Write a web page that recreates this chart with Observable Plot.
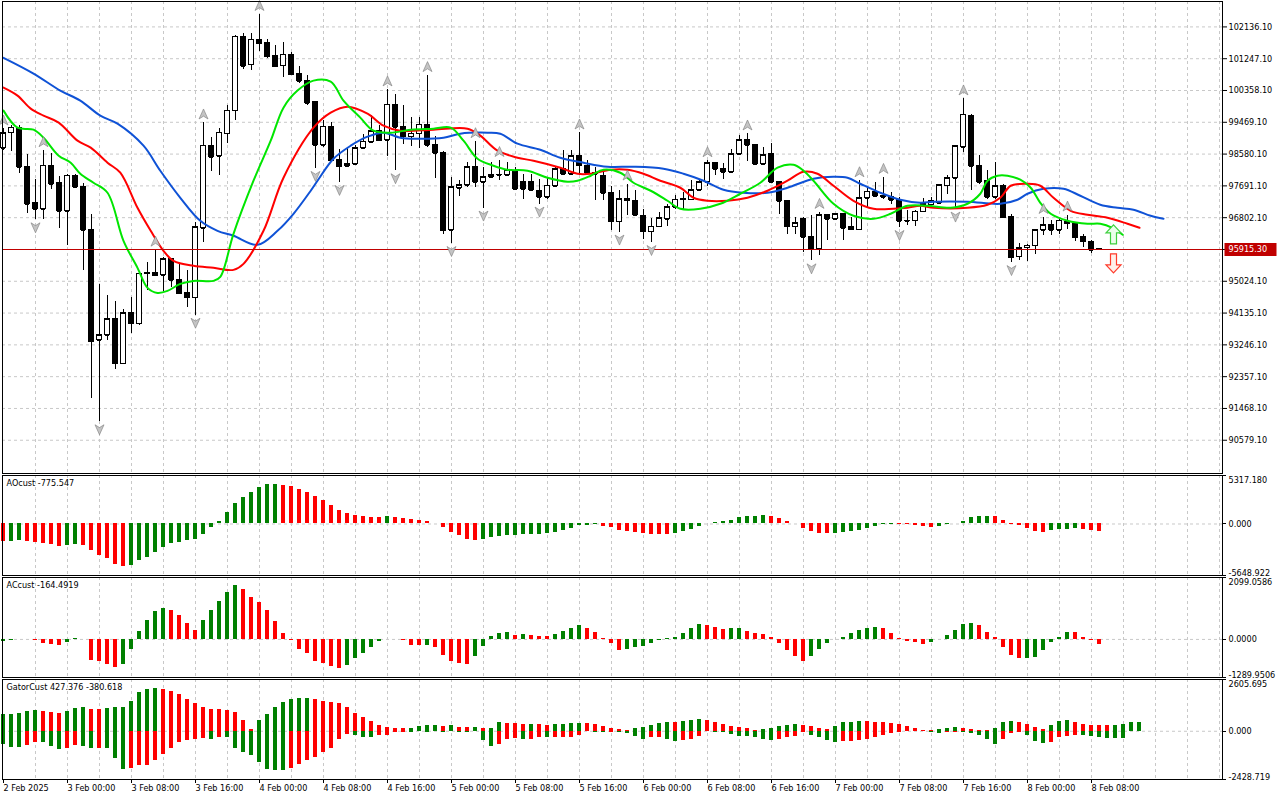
<!DOCTYPE html>
<html><head><meta charset="utf-8">
<script src="https://cdn.jsdelivr.net/npm/d3@7"></script>
<script src="https://cdn.jsdelivr.net/npm/@observablehq/plot@0.6"></script>
<style>
html,body{margin:0;padding:0;background:#fff;}
#chart{position:relative;width:1280px;height:800px;overflow:hidden;background:#fff;}
#chart svg{position:absolute;left:0;display:block;}
</style></head><body><div id="chart"></div>
<script>
// ---------------- DATA ----------------
const xLabels = ["2 Feb 2025","3 Feb 00:00","3 Feb 08:00","3 Feb 16:00","4 Feb 00:00","4 Feb 08:00","4 Feb 16:00","5 Feb 00:00","5 Feb 08:00","5 Feb 16:00","6 Feb 00:00","6 Feb 08:00","6 Feb 16:00","7 Feb 00:00","7 Feb 08:00","7 Feb 16:00","8 Feb 00:00","8 Feb 08:00"];
const priceTicks = [102136.10,101247.10,100358.10,99469.10,98580.10,97691.10,96802.10,95913.10,95024.10,94135.10,93246.10,92357.10,91468.10,90579.10];
const lastPrice = 95915.30;

const openP = [98750,99170,99300,98227,97200,97042,98255,97760,96986,97975,
97667,96454,93374,93514,93962,92720,94130,93840,95240,95250,
95194,95642,95054,94690,94568,96510,98815,98516,99142,99795,
101867,101074,101774,101680,101335,101055,101363,100822,100635,100028,
98834,99347,98423,98236,98302,98750,98908,99230,98974,99954,
99328,99067,99142,99394,98834,98610,96454,97630,97714,98208,
97788,97928,97994,97994,98087,97790,97807,97555,97368,97676,
98162,98022,98535,98255,98050,97956,97490,96687,97322,97275,
96855,96407,96547,96762,97088,97303,97303,97574,97788,98330,
98162,98068,98582,98974,98834,98302,98582,97788,97256,96547,
96762,96267,95922,96874,96762,96902,96528,96463,97350,97527,
97415,97368,97303,96715,96715,96967,97163,97199,97695,97911,
98767,99655,98255,97835,97367,97675,96827,95707,95967,96015,
96455,96595,96455,96695,96639,96267,96135,95930];
const highP = [99282,99375,99375,98563,97882,98675,98610,97956,98022,98022,
97760,96883,94942,94615,94447,94223,94568,95268,95548,95894,
95688,95670,95502,95334,96668,99450,99030,99282,99935,101886,
101942,101942,102483,101774,101615,101690,101428,101027,100775,100056,
99515,99468,98703,98750,98815,99123,99655,99375,100374,100234,
99935,99590,99608,100775,99067,98650,97928,97854,98348,98927,
98208,98348,98400,98348,98208,98022,98022,97882,97910,98208,
98675,98675,99170,98395,98208,98096,97667,97574,97742,97555,
97042,96790,96948,97182,97415,97508,97835,97835,98395,98348,
98330,98722,99095,99142,98862,98768,98880,97807,97270,96808,
96808,96855,96950,96880,96920,96920,96808,97835,97648,97788,
97928,97508,97368,96995,96995,97351,97367,97743,97995,98815,
100123,99683,98535,98135,98347,97743,96883,96079,96043,96470,
96807,96715,96790,96875,96667,96323,96155,95935];
const lowP = [98675,98656,98040,96920,96743,96762,97583,96500,96034,97630,
95334,91740,91096,93374,92562,92702,93560,93775,94774,95156,
94727,94848,94662,94288,94074,96108,98096,97975,98880,99515,
100943,100915,101447,101242,101008,100710,100775,100560,99935,98180,
98768,98376,97788,98227,98283,98722,98908,98927,98507,98115,
98862,98787,98750,98768,97910,96342,96080,97387,97648,97648,
97070,97910,97835,97975,97574,97322,97555,97182,97322,97648,
97975,98003,97994,98022,97275,97275,96435,96400,96855,96855,
96202,96108,96528,96547,97042,97042,97275,97555,97667,97975,
97882,98050,98570,98367,98274,98283,97760,96902,96342,96342,
95828,95595,95735,96155,96745,96155,96435,96435,97088,97368,
97322,97182,96528,96575,96547,96939,97135,97183,97443,97043,
98627,97555,97743,97323,97323,96790,95547,95595,95580,95783,
96295,96295,96343,96483,96135,95967,95799,95910];
const closeP = [99160,99310,98208,97182,97032,98255,97742,96986,97975,97648,
96454,93336,93514,93962,92720,94130,93840,95240,95259,95175,
95642,95054,94680,94568,96528,98815,98488,99170,99795,101867,
101036,101774,101662,101307,101027,101363,100803,100616,100000,98834,
99347,98395,98227,98302,98750,98927,99216,98955,99954,99328,
99067,99142,99394,98834,98600,96435,97648,97714,98208,97788,
97928,97994,98003,98115,97602,97602,97574,97368,97695,98162,
98022,98516,98255,98040,98012,97480,96687,97322,97275,96874,
96407,96547,96780,97088,97303,97312,97574,97788,98330,98162,
98068,98582,98974,98834,98302,98554,97788,97256,96547,96650,
96248,95903,96874,96762,96902,96500,96463,97350,97527,97396,
97368,97294,96696,96706,96967,97183,97255,97715,97911,98795,
99683,98235,97787,97367,97675,96807,95687,95951,96015,96455,
96595,96455,96715,96639,96247,96127,95895,95915.3];

const fractalUpBars = [0,5,19,25,32,48,53,59,62,72,78,88,93,102,107,110,120,130,133];
const fractalDownBars = [4,12,24,39,42,49,56,60,67,77,81,101,112,119,126];

// Alligator lines: [bar, price]
const jaw = [[0,101271],[3.75,100831],[7.1,100355],[9.6,100075],[12.1,99655],[14.25,99431],[17.5,98815],[19.6,98115],[22.1,97359],[24.6,96715],[26.75,96435],[28.75,96295],[31.75,96043],[34.25,96435],[36.25,96911],[38.4,97555],[39.25,97835],[41.25,98451],[43.4,98815],[45.5,99067],[47.5,99179],[49.6,99039],[51.75,99011],[55,99039],[57.1,99151],[60.5,99179],[62.1,99151],[64.25,98871],[67.1,98703],[69.6,98479],[72.5,98339],[75.5,98227],[78.75,98227],[82.5,98171],[85,98031],[87.5,97835],[90,97583],[92.5,97499],[95.5,97499],[98,97639],[101.25,97891],[103.75,97947],[105.5,97919],[107.1,97751],[109.6,97499],[112.1,97303],[114.6,97219],[116.25,97247],[120.5,97247],[124.6,97191],[126.75,97303],[128,97471],[130,97611],[132.5,97611],[134.6,97415],[137.1,97163],[139.25,97079],[141.25,97023],[143.4,96855],[145,96771]];
const teeth = [[0,100439],[1.75,100215],[3.4,99851],[5,99655],[6.9,99459],[9.25,98955],[10.9,98759],[13,98339],[14.6,98059],[16.75,97079],[18.4,96435],[20,95875],[21.25,95595],[23.75,95455],[26.25,95399],[28.75,95343],[30,95511],[32.5,96435],[35,97919],[38.75,99319],[40.9,99739],[43,99907],[45.5,99711],[47.5,99375],[49.6,99235],[53.75,99263],[58,99291],[59.6,99095],[61.75,98675],[64.25,98479],[66.25,98395],[69.6,98199],[71.75,98031],[73.4,98031],[75.9,98143],[78,98143],[80,98031],[82.1,97835],[84.6,97639],[86.25,97359],[88,97275],[90.5,97275],[93,97359],[95.5,97555],[98,97835],[100,98087],[101.75,98031],[103.75,97695],[106.25,97275],[108.75,97051],[111.25,97051],[113,97079],[114.6,97135],[116.25,97079],[120.5,97079],[123,97163],[124.6,97359],[125.9,97695],[128,97751],[129.6,97695],[131.25,97359],[133.4,96995],[135.5,96883],[138,96799],[140.5,96631],[142,96519]];
const lips = [[0,99795],[1.75,99319],[3.75,99263],[5,99039],[6.9,98535],[8.4,98339],[9.6,98031],[11.25,97779],[13,97499],[15,96155],[16.75,95399],[18,94839],[19.25,94699],[20.5,94755],[22.1,94951],[23.75,95035],[26.25,95035],[27.1,95147],[28.75,96351],[31.25,97835],[33.4,98955],[35,99879],[36.75,100355],[38.75,100635],[40.9,100607],[42.5,100075],[44.6,99599],[46.25,99235],[48.4,99179],[50.9,99263],[53.75,99291],[55.9,99319],[57.5,98955],[59.25,98451],[61.25,98255],[63,98143],[65.5,98115],[68,97919],[70.5,97807],[71.75,97835],[73.4,97975],[75,98143],[77.1,98059],[78.75,97779],[80.9,97555],[83,97275],[84.6,97051],[87.1,97051],[89.6,97191],[92.1,97471],[94.6,97779],[96.75,98199],[98.75,98283],[100,98115],[101.25,97835],[103.75,97191],[106.25,96855],[108.75,96771],[110.9,96911],[113,97135],[115.5,97135],[118.4,97079],[120.5,97191],[122.1,97471],[123,97835],[124.25,97975],[125.5,97975],[127.1,97863],[128.4,97639],[129.6,97219],[130.9,96911],[133,96715],[135.5,96631],[137.1,96631],[138.6,96519],[139.9,96323]];

const signalUp = [[138.75, 96337]];
const signalDown = [[138.75, 95525]];

const aoValues = [-1920,-1883,-1846,-1920,-2031,-2178,-2289,-2474,-2363,-2289,
-2400,-2954,-3470,-3766,-4393,-4689,-4578,-4024,-3692,-3138,
-2584,-2178,-2031,-1809,-1698,-1181,-369,258,1255,2252,
2917,3507,4024,4320,4357,4246,4098,3803,3507,3027,
2621,2031,1477,1145,960,812,701,665,849,701,
628,480,369,258,37,-369,-923,-1255,-1698,-1772,
-1661,-1477,-1366,-1292,-1255,-1181,-1145,-1108,-1034,-923,
-665,-443,-185,-148,-111,-258,-369,-701,-849,-923,
-997,-1108,-1145,-1181,-997,-849,-554,-258,74,148,
258,406,665,775,849,886,812,628,295,37,
-443,-812,-1034,-1071,-1034,-886,-812,-701,-480,-258,
-74,-37,-74,-111,-148,-258,-332,-258,-74,74,
258,665,775,849,812,369,-5,-185,-517,-812,
-886,-701,-628,-554,-517,-628,-740,-775.547];
const acValues = [-80,-34,6,11,-34,-148,-160,-205,-114,34,
-6,-707,-764,-833,-936,-833,-354,262,639,936,
1038,970,799,525,319,639,981,1289,1597,1826,
1689,1415,1255,993,605,217,-46,-342,-491,-742,
-799,-913,-970,-890,-662,-491,-285,-80,11,-6,
-46,-194,-217,-194,-285,-536,-764,-799,-833,-571,
-228,114,217,222,148,183,137,114,108,160,
285,365,456,377,251,46,-148,-377,-342,-285,
-251,-148,-34,23,80,217,354,502,456,388,
342,354,365,262,205,171,80,-148,-365,-571,
-742,-571,-342,-148,11,57,194,297,365,388,
371,194,23,-57,-114,-171,-114,2,148,297,
502,525,456,251,80,-285,-536,-662,-639,-605,
-377,-114,68,251,240,80,-34,-164.4919];
const gatorUpper = [848,864,881,1000,1051,1000,949,915,1000,1153,
1203,1102,1085,1153,1203,1220,1509,1966,2119,2170,
2119,2000,1831,1610,1373,1203,1102,1085,1051,966,
542,85,525,864,1203,1441,1610,1627,1644,1610,
1509,1441,1373,1203,915,695,508,305,186,136,
119,136,254,271,288,254,271,186,170,186,
136,153,424,407,390,339,356,339,305,339,
356,373,390,373,339,220,136,85,51,136,
170,305,390,441,424,508,542,593,542,458,
339,254,186,119,51,68,136,254,305,339,
288,220,136,85,220,424,458,508,492,458,
424,407,339,220,136,51,34,85,136,186,
153,102,51,17,136,424,475,458,339,186,
85,305,508,525,458,339,305,288,271,305,
356,424,427.376];
const gatorLower = [-661,-797,-831,-712,-559,-576,-763,-915,-881,-712,
-763,-881,-864,-881,-1390,-1932,-1898,-1729,-1712,-1475,
-1187,-881,-542,-458,-424,-373,-407,-322,-339,-881,
-1051,-1220,-1559,-1932,-1983,-2000,-1898,-1695,-1475,-1339,
-1085,-848,-407,-153,-203,-305,-322,-237,-203,-68,
-51,-68,-34,-51,-34,-68,-34,-51,-68,-34,
-458,-763,-661,-407,-373,-407,-390,-322,-331,-322,
-314,-305,-203,-34,-51,-68,-51,-68,-119,-254,
-407,-339,-322,-424,-492,-475,-407,-254,-34,-51,
-68,-153,-254,-271,-339,-424,-475,-407,-339,-254,
-68,-203,-339,-475,-542,-508,-492,-475,-407,-305,
-203,-119,-68,-34,-17,-34,-85,-119,-85,-51,
-85,-119,-237,-424,-661,-407,-119,-68,-237,-492,
-593,-542,-339,-288,-203,-237,-288,-339,-356,-373,
-380.618];

const aoAxis = [5317.180, 0, -5648.922];
const acAxis = [2099.0586, 0, -1289.9506];
const gatorAxis = [2605.695, 0, -2428.719];

// ---------------- STYLE / LAYOUT ----------------
const FONT = '"DejaVu Sans Condensed","Liberation Sans",sans-serif';
const GRID = "#c8c8c8", UP = "#008000", DN = "#ff0000";
const X0 = -0.125, X1 = 152.375;
const gridBars = d3.range(4, 153, 4);
const labelBars = xLabels.map((_, k) => 8 * k);
const chart = document.getElementById("chart");
const style = {background: "transparent", fontFamily: FONT, fontSize: "9px", color: "black", overflow: "visible"};

function place(svg, top) { svg.style.top = top + "px"; chart.appendChild(svg); }

const sym = (pts) => ({draw(ctx) { ctx.moveTo(pts[0][0], pts[0][1]); for (const p of pts.slice(1)) ctx.lineTo(p[0], p[1]); ctx.closePath(); }});
const fracUpSym = sym([[0,-5],[4.5,5],[0,2.2],[-4.5,5]]);
const fracDnSym = sym([[0,5],[4.5,-5],[0,-2.2],[-4.5,-5]]);
const sigUpSym = sym([[0,-9.5],[7.5,-1.5],[3,-1.5],[3,9.5],[-3,9.5],[-3,-1.5],[-7.5,-1.5]]);
const sigDnSym = sym([[0,9.5],[7.5,1.5],[3,1.5],[3,-9.5],[-3,-9.5],[-3,1.5],[-7.5,1.5]]);
const boxSym = {draw(ctx) { ctx.rect(-26, -6.5, 52, 13); }};

const candles = openP.map((o, i) => ({i, o, h: highP[i], l: lowP[i], c: closeP[i]}));
const lineOpts = (color) => ({x: d => d[0], y: d => d[1], stroke: color, strokeWidth: 2, curve: "catmull-rom"});

// ---------------- MAIN PANE ----------------
place(Plot.plot({
  width: 1280, height: 474, marginLeft: 2, marginRight: 58, marginTop: 1, marginBottom: 1,
  style,
  x: {domain: [X0, X1], axis: null},
  y: {domain: [89649.4, 102846.5]},
  marks: [
    Plot.ruleX(gridBars, {stroke: GRID, strokeDasharray: "3,3"}),
    Plot.ruleY(priceTicks, {stroke: GRID, strokeDasharray: "3,3"}),
    Plot.ruleX(candles, {x: "i", y1: "l", y2: "h", stroke: "black", shapeRendering: "crispEdges"}),
    Plot.rect(candles, {x1: d => d.i - 0.26, x2: d => d.i + 0.26, y1: "o", y2: "c",
      fill: d => d.c >= d.o ? "white" : "black", stroke: "black", shapeRendering: "crispEdges"}),
    Plot.ruleY(candles, {y: "o", x1: d => d.i - 0.26, x2: d => d.i + 0.26, stroke: "black", shapeRendering: "crispEdges"}),
    Plot.ruleY(candles, {y: "c", x1: d => d.i - 0.26, x2: d => d.i + 0.26, stroke: "black", shapeRendering: "crispEdges"}),
    Plot.line(jaw, lineOpts("#0f52d6")),
    Plot.line(teeth, lineOpts("#ff0000")),
    Plot.line(lips, lineOpts("#00e600")),
    Plot.ruleY([lastPrice], {stroke: "#c00000", shapeRendering: "crispEdges"}),
    Plot.dot(fractalUpBars, {x: d => d, y: d => highP[d], symbol: fracUpSym, r: 5, fill: "#c4c4c4", stroke: "#7a7a7a", strokeWidth: 0.6, dy: -9}),
    Plot.dot(fractalDownBars, {x: d => d, y: d => lowP[d], symbol: fracDnSym, r: 5, fill: "#c4c4c4", stroke: "#7a7a7a", strokeWidth: 0.6, dy: 8}),
    Plot.dot(signalUp, {x: d => d[0], y: d => d[1], symbol: sigUpSym, r: 5, fill: "#eaffea", stroke: "#3ccf3c", strokeWidth: 1.2}),
    Plot.dot(signalDown, {x: d => d[0], y: d => d[1], symbol: sigDnSym, r: 5, fill: "#fff0ea", stroke: "#ff3a2a", strokeWidth: 1.2}),
    Plot.frame({stroke: "black", shapeRendering: "crispEdges"}),
    Plot.axisY(priceTicks, {anchor: "right", tickSize: 4, tickPadding: 2, tickFormat: d => d.toFixed(2), fontSize: 9}),
    Plot.dot([lastPrice], {x: () => X1, y: d => d, symbol: boxSym, r: 5, fill: "#c00000", dx: 28}),
    Plot.text([lastPrice], {x: () => X1, y: d => d, text: d => d.toFixed(2), dx: 6, textAnchor: "start", fill: "white", fontSize: 9})
  ]
}), 0);

// ---------------- INDICATOR PANES ----------------
function series(values, firstUp, useAbs) {
  return values.map((v, i) => {
    const a = useAbs ? Math.abs(v) : v;
    const p = i === 0 ? null : (useAbs ? Math.abs(values[i - 1]) : values[i - 1]);
    return {i, v, up: i === 0 ? firstUp : a > p};
  });
}
function bars(data, hw) {
  return Plot.rect(data, {x1: d => d.i - hw, x2: d => d.i + hw, y1: () => 0, y2: "v",
    fill: d => d.up ? UP : DN, shapeRendering: "crispEdges"});
}
function sideAxis(vals, dec) {
  return [
    Plot.ruleY(vals, {x1: () => X1, x2: () => X1 + 0.5, stroke: "black", shapeRendering: "crispEdges"}),
    Plot.text([vals[0]], {x: () => X1, y: d => d, text: d => d.toFixed(dec), dx: 6, dy: 1, textAnchor: "start", lineAnchor: "top", fontSize: 9}),
    Plot.text([vals[1]], {x: () => X1, y: d => d, text: d => d.toFixed(dec), dx: 6, textAnchor: "start", lineAnchor: "middle", fontSize: 9}),
    Plot.text([vals[2]], {x: () => X1, y: d => d, text: d => d.toFixed(dec), dx: 6, dy: 0, textAnchor: "start", lineAnchor: "bottom", fontSize: 9})
  ];
}
function pane(top, height, mb, domain, marks, withXAxis) {
  const m = [
    Plot.ruleX(gridBars, {stroke: GRID, strokeDasharray: "3,3"}),
    Plot.ruleY([0], {stroke: GRID, strokeDasharray: "3,3"}),
    ...marks,
    Plot.frame({stroke: "black", shapeRendering: "crispEdges"})
  ];
  if (withXAxis) m.push(Plot.axisX(labelBars, {anchor: "bottom", tickSize: 4, tickPadding: 1,
    tickFormat: d => xLabels[d / 8], textAnchor: "start", fontSize: 9}));
  place(Plot.plot({
    width: 1280, height, marginLeft: 2, marginRight: 58, marginTop: 1, marginBottom: mb,
    style,
    x: {domain: [X0, X1], axis: withXAxis ? undefined : null},
    y: {domain, axis: null},
    marks: m
  }), top);
}

pane(474, 102, 1, [aoAxis[2], aoAxis[0]], [
  bars(series(aoValues, false, false), 0.19),
  Plot.text(["AOcust " + aoValues[aoValues.length - 1]], {frameAnchor: "top-left", dx: 4, dy: 4, fontSize: 9}),
  ...sideAxis(aoAxis, 3)
], false);

pane(576, 102, 1, [acAxis[2], acAxis[0]], [
  bars(series(acValues, true, false), 0.19),
  Plot.text(["ACcust " + acValues[acValues.length - 1]], {frameAnchor: "top-left", dx: 4, dy: 4, fontSize: 9}),
  ...sideAxis(acAxis, 4)
], false);

pane(678, 122, 21, [gatorAxis[2], gatorAxis[0]], [
  bars(series(gatorUpper, true, true), 0.22),
  bars(series(gatorLower, true, true), 0.22),
  Plot.text(["GatorCust " + gatorUpper[gatorUpper.length - 1] + " " + gatorLower[gatorLower.length - 1]], {frameAnchor: "top-left", dx: 4, dy: 4, fontSize: 9}),
  ...sideAxis(gatorAxis, 3)
], true);
</script>
</body></html>
